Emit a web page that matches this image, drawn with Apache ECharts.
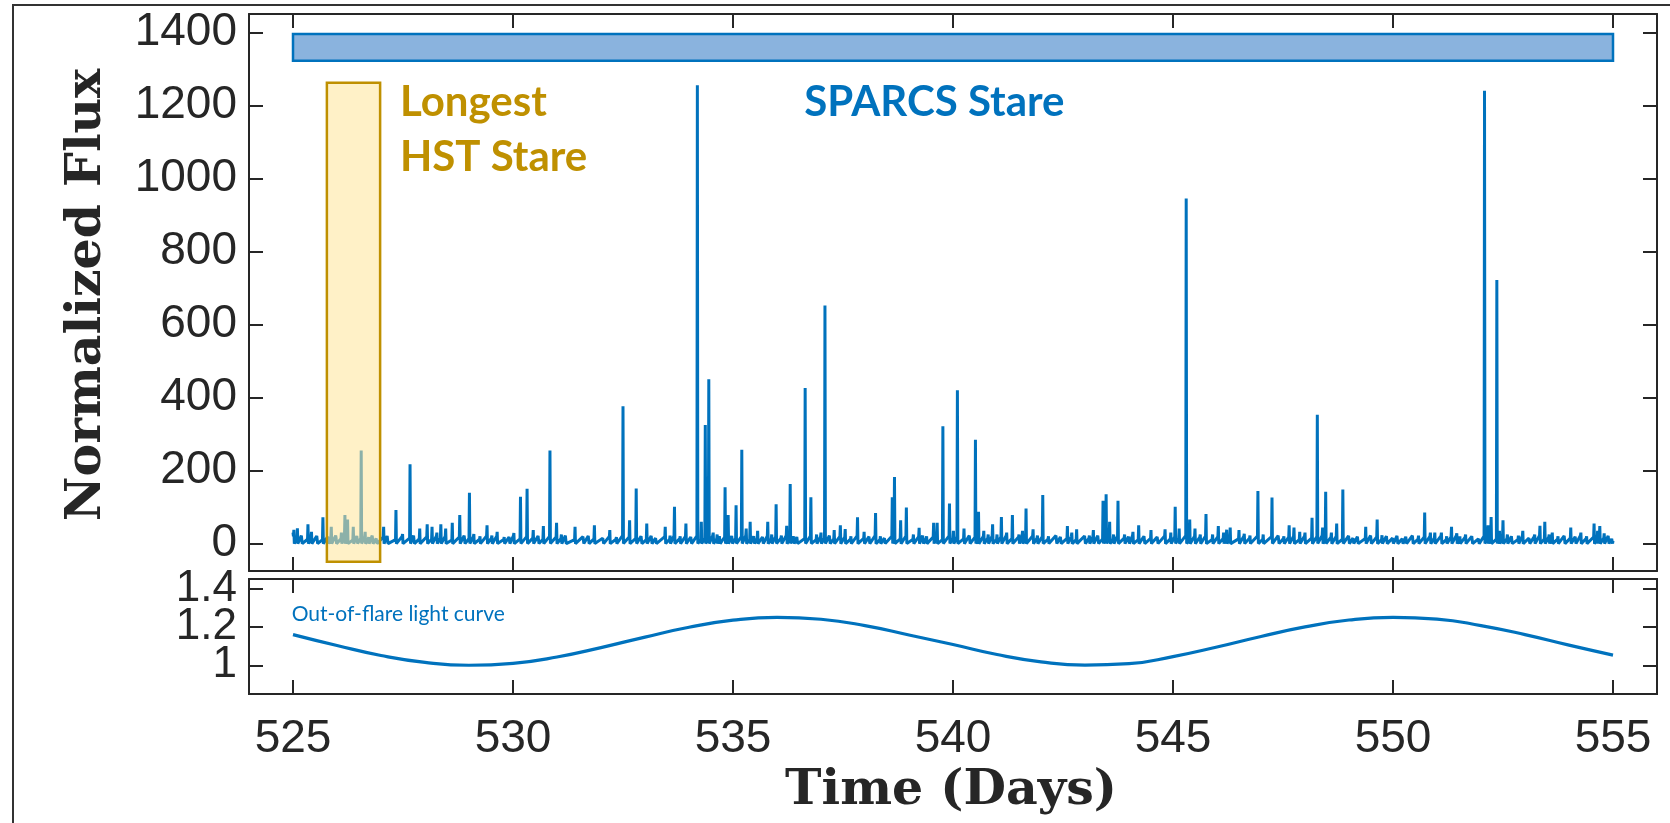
<!DOCTYPE html>
<html>
<head>
<meta charset="utf-8">
<script src="https://cdn.jsdelivr.net/npm/echarts@6/dist/echarts.min.js"></script>
<style>
  html, body { margin: 0; padding: 0; background: #fff; }
  #chart { width: 1670px; height: 823px; }
</style>
</head>
<body>
<div id="chart"></div>
<script>
// flare spikes (time in days, normalized flux)
const flareTime = [
  525.02, 525.10, 525.20, 525.34, 525.42, 525.55, 525.68, 525.80, 525.87, 525.98,
  526.10, 526.18, 526.24, 526.37, 526.46, 526.55, 526.64, 526.72, 526.81, 526.90,
  527.06, 527.15, 527.34, 527.49, 527.66, 527.75, 527.88, 528.05, 528.16, 528.27,
  528.36, 528.47, 528.62, 528.79, 528.90, 529.01, 529.11, 529.25, 529.41, 529.52,
  529.64, 529.80, 529.92, 530.02, 530.17, 530.32, 530.46, 530.58, 530.69, 530.84,
  530.99, 531.10, 531.20, 531.41, 531.60, 531.72, 531.85, 532.05, 532.20, 532.35,
  532.50, 532.65, 532.80, 532.92, 533.04, 533.15, 533.25, 533.46, 533.57, 533.67,
  533.80, 533.93, 534.05, 534.19, 534.28, 534.37, 534.45, 534.55, 534.64, 534.70,
  534.82, 534.89, 534.98, 535.07, 535.20, 535.30, 535.39, 535.48, 535.56, 535.68,
  535.79, 535.88, 535.98, 536.10, 536.22, 536.30, 536.38, 536.46, 536.64, 536.77,
  536.90, 537.00, 537.09, 537.20, 537.30, 537.44, 537.55, 537.68, 537.83, 537.98,
  538.10, 538.24, 538.35, 538.45, 538.62, 538.67, 538.81, 538.94, 539.10, 539.23,
  539.32, 539.40, 539.56, 539.64, 539.77, 539.92, 540.01, 540.10, 540.25, 540.38,
  540.51, 540.58, 540.70, 540.80, 540.90, 541.00, 541.10, 541.22, 541.35, 541.50,
  541.58, 541.66, 541.82, 541.92, 542.04, 542.17, 542.35, 542.45, 542.60, 542.70,
  542.81, 543.00, 543.10, 543.19, 543.30, 543.41, 543.48, 543.56, 543.65, 543.75,
  543.90, 544.00, 544.09, 544.22, 544.35, 544.50, 544.65, 544.82, 544.95, 545.05,
  545.14, 545.30, 545.38, 545.50, 545.62, 545.75, 545.90, 546.03, 546.15, 546.22,
  546.30, 546.50, 546.62, 546.75, 546.93, 547.05, 547.25, 547.40, 547.52, 547.64,
  547.75, 547.88, 548.00, 548.16, 548.28, 548.40, 548.47, 548.60, 548.72, 548.86,
  549.00, 549.10, 549.20, 549.38, 549.50, 549.64, 549.75, 549.86, 550.00, 550.10,
  550.22, 550.30, 550.45, 550.58, 550.72, 550.85, 550.95, 551.10, 551.22, 551.33,
  551.45, 551.52, 551.65, 551.80, 551.95, 552.08, 552.16, 552.23, 552.36, 552.42,
  552.50, 552.60, 552.70, 552.85, 552.95, 553.10, 553.22, 553.34, 553.45, 553.55,
  553.62, 553.75, 553.90, 554.04, 554.15, 554.27, 554.40, 554.57, 554.65, 554.70,
  554.80, 554.90, 554.98
];
const flarePeak = [
  38, 42, 20, 53, 32, 18, 72, 20, 46, 15,
  30, 78, 66, 46, 25, 255, 32, 18, 23, 18,
  46, 25, 92, 26, 217, 25, 41, 53, 46, 30,
  53, 41, 57, 78, 25, 139, 26, 20, 50, 22,
  32, 18, 15, 29, 128, 150, 37, 20, 48, 255,
  57, 25, 20, 46, 22, 18, 50, 20, 37, 18,
  376, 64, 151, 25, 55, 20, 18, 46, 22, 101,
  20, 55, 20, 1255, 60, 325, 450, 30, 25, 20,
  154, 78, 22, 105, 257, 41, 60, 25, 35, 20,
  60, 25, 108, 22, 49, 163, 20, 20, 426, 127,
  25, 30, 652, 25, 37, 50, 40, 20, 72, 32,
  18, 84, 20, 20, 127, 182, 64, 99, 25, 43,
  20, 20, 57, 57, 321, 110, 35, 420, 41, 25,
  284, 87, 35, 25, 53, 25, 73, 30, 78, 25,
  35, 96, 39, 22, 133, 20, 25, 20, 48, 30,
  39, 20, 22, 37, 20, 117, 135, 60, 25, 117,
  25, 20, 32, 50, 22, 37, 20, 39, 30, 101,
  41, 945, 66, 41, 25, 81, 25, 48, 30, 38,
  44, 37, 27, 22, 144, 25, 126, 25, 20, 50,
  44, 32, 30, 71, 353, 44, 142, 30, 55, 148,
  20, 20, 18, 46, 22, 66, 23, 20, 15, 18,
  15, 20, 18, 22, 85, 30, 30, 30, 20, 46,
  28, 20, 25, 20, 18, 1240, 50, 73, 722, 35,
  64, 25, 20, 22, 35, 20, 25, 49, 60, 25,
  30, 20, 25, 44, 22, 30, 20, 55, 35, 48,
  28, 20, 15
];
// quiet (between-flare) level just before each spike
const flareQuiet = [
  20, 14, 22, 12, 18, 21, 11, 19, 15, 22,
  13, 20, 18, 10, 21, 15, 19, 12, 22, 14,
  18, 21, 11, 20, 15, 22, 13, 19, 12, 21,
  15, 20, 10, 18, 22, 14, 19, 12, 21, 15,
  20, 11, 18, 22, 13, 19, 15, 21, 12, 20,
  18, 14, 22, 11, 19, 21, 13, 15, 20, 12,
  22, 18, 14, 20, 11, 21, 15, 19, 12, 22,
  14, 20, 18, 21, 11, 15, 19, 22, 13, 20,
  18, 12, 21, 15, 19, 22, 11, 20, 14, 18,
  21, 13, 19, 15, 22, 12, 20, 18, 14, 21,
  11, 19, 15, 22, 13, 20, 18, 12, 21, 14,
  19, 22, 11, 15, 20, 18, 13, 21, 12, 19,
  22, 14, 18, 20, 11, 21, 15, 19, 13, 22,
  18, 12, 20, 15, 21, 11, 19, 22, 14, 18,
  20, 13, 21, 15, 19, 12, 22, 18, 14, 20,
  11, 21, 15, 19, 22, 13, 18, 20, 12, 21,
  15, 19, 22, 11, 20, 14, 18, 21, 13, 19,
  15, 22, 12, 20, 18, 21, 11, 19, 14, 22,
  18, 13, 20, 15, 21, 12, 19, 22, 14, 18,
  20, 11, 21, 15, 19, 22, 13, 18, 20, 12,
  21, 15, 19, 14, 22, 18, 11, 20, 15, 21,
  13, 19, 22, 12, 18, 20, 15, 21, 11, 19,
  22, 14, 18, 20, 13, 21, 15, 19, 12, 22,
  18, 14, 20, 11, 21, 15, 19, 22, 13, 18,
  20, 12, 21, 15, 19, 22, 14, 18, 11, 20,
  15, 21, 13
];

// out-of-flare (quiescent) light curve
const lcTime = [
  525, 526, 527, 528, 529, 530, 531, 532, 533, 534, 535, 536, 537, 538, 539, 540,
  541, 542, 543, 544, 545, 546, 547, 548, 549, 550, 551, 552, 553, 554, 555
];
const lcFlux = [
  1.160, 1.103, 1.051, 1.015, 1.000, 1.010, 1.043, 1.092, 1.147, 1.198, 1.235, 1.250,
  1.240, 1.207, 1.158, 1.108, 1.056, 1.018, 1.001, 1.008, 1.045, 1.095, 1.150, 1.200,
  1.236, 1.250, 1.241, 1.207, 1.160, 1.105, 1.053
];

// observing windows: [tStart, fluxBottom, tEnd, fluxTop]
const sparcsWindow = [525, 1322, 555, 1395];
const hstWindow = [525.77, -50, 526.98, 1262];

const xTicks = [525, 530, 535, 540, 545, 550, 555];
const fluxTicks = [0, 200, 400, 600, 800, 1000, 1200, 1400];
// the light-curve ticks are split over two stacked axes so the
// crowded labels are not dropped by the overlap check
const lcTicksOuter = [1, 1.4];
const lcTicksMiddle = [1.2];

const fluxData = [[525, 30]];
for (let i = 0; i < flareTime.length; i++) {
  fluxData.push([flareTime[i] - 0.01, flareQuiet[i]]);
  fluxData.push([flareTime[i], flarePeak[i]]);
  fluxData.push([flareTime[i] + 0.01, 0]);
}
fluxData.push([555, 8]);

const lcData = lcTime.map((t, i) => [t, lcFlux[i]]);

const axisColor = "#262626";
const blue = "#0072BD";
const gold = "#BF9000";
const titleFont = "DejaVu Serif";

function xAxisCfg(grid, pos, labels) {
  return {
    type: "value",
    gridIndex: grid,
    position: pos,
    min: 524,
    max: 556,
    axisLine: { onZero: false, lineStyle: { color: axisColor, width: 2 } },
    axisTick: { inside: true, length: 14, interval: 0, customValues: xTicks, lineStyle: { color: axisColor, width: 2 } },
    axisLabel: {
      show: labels,
      customValues: xTicks,
      interval: 0,
      margin: 22,
      color: axisColor,
      fontFamily: "Liberation Sans",
      fontSize: 46,
      formatter: v => String(v)
    },
    splitLine: { show: false }
  };
}

function yAxisCfg(grid, pos, min, max, ticks, labels, size) {
  return {
    type: "value",
    gridIndex: grid,
    position: pos,
    offset: 0,
    min: min,
    max: max,
    axisLine: { show: true, onZero: false, lineStyle: { color: axisColor, width: 2 } },
    axisTick: { show: true, inside: true, length: 14, interval: 0, customValues: ticks, lineStyle: { color: axisColor, width: 2 } },
    axisLabel: {
      show: labels,
      customValues: ticks,
      interval: 0,
      showMinLabel: true,
      showMaxLabel: true,
      margin: 12,
      color: axisColor,
      fontFamily: "Liberation Sans",
      fontSize: size,
      formatter: v => String(v)
    },
    splitLine: { show: false }
  };
}

function boxRenderer(fill, stroke) {
  return function (params, api) {
    const p0 = api.coord([api.value(0), api.value(3)]);
    const p1 = api.coord([api.value(2), api.value(1)]);
    return {
      type: "rect",
      shape: { x: p0[0], y: p0[1], width: p1[0] - p0[0], height: p1[1] - p0[1] },
      style: { fill: fill, stroke: stroke, lineWidth: 2.5 }
    };
  };
}

const chart = echarts.init(document.getElementById("chart"));
chart.setOption({
  animation: false,
  backgroundColor: "#fff",
  grid: [
    { left: 249, top: 14, width: 1408, height: 557 },
    { left: 249, top: 579, width: 1408, height: 115 }
  ],
  xAxis: [
    xAxisCfg(0, "bottom", false),
    xAxisCfg(0, "top", false),
    xAxisCfg(1, "bottom", true),
    xAxisCfg(1, "top", false)
  ],
  yAxis: [
    yAxisCfg(0, "left", -75, 1450, fluxTicks, true, 46),
    yAxisCfg(0, "right", -75, 1450, fluxTicks, false, 46),
    yAxisCfg(1, "left", 0.85, 1.45, lcTicksOuter, true, 44),
    yAxisCfg(1, "right", 0.85, 1.45, lcTicksOuter, false, 44),
    yAxisCfg(1, "left", 0.85, 1.45, lcTicksMiddle, true, 44),
    yAxisCfg(1, "right", 0.85, 1.45, lcTicksMiddle, false, 44)
  ],
  series: [
    {
      type: "line",
      xAxisIndex: 0,
      yAxisIndex: 0,
      data: fluxData,
      showSymbol: false,
      sampling: "none",
      lineStyle: { color: blue, width: 3 },
      z: 2
    },
    {
      type: "custom",
      xAxisIndex: 0,
      yAxisIndex: 0,
      data: [sparcsWindow],
      renderItem: boxRenderer("#8AB3DE", blue),
      z: 3
    },
    {
      type: "custom",
      xAxisIndex: 0,
      yAxisIndex: 0,
      data: [hstWindow],
      renderItem: boxRenderer("rgba(255,229,153,0.55)", gold),
      z: 4
    },
    {
      type: "line",
      xAxisIndex: 2,
      yAxisIndex: 2,
      data: lcData,
      smooth: true,
      showSymbol: false,
      lineStyle: { color: blue, width: 3.2 }
    }
  ]
});

// annotations anchored in data coordinates
const pLongest = chart.convertToPixel({ seriesIndex: 0 }, [527.43, 1282]);
const pSparcs = chart.convertToPixel({ seriesIndex: 0 }, [536.62, 1282]);
const pCurve = chart.convertToPixel({ seriesIndex: 3 }, [524.97, 1.265]);

chart.setOption({
  graphic: [
    {
      type: "polyline",
      shape: { points: [[13, 823], [13, 5], [1670, 5]] },
      style: { stroke: "#333", lineWidth: 2, fill: null },
      silent: true
    },
    {
      type: "text",
      x: pLongest[0],
      y: pLongest[1],
      style: {
        text: "Longest\nHST Stare",
        fill: gold,
        fontFamily: "Lato",
        fontWeight: "bold",
        fontSize: 42,
        lineHeight: 55,
        align: "left",
        verticalAlign: "top"
      }
    },
    {
      type: "text",
      x: pSparcs[0],
      y: pSparcs[1],
      style: {
        text: "SPARCS Stare",
        fill: blue,
        fontFamily: "Lato",
        fontWeight: "bold",
        fontSize: 42,
        lineHeight: 55,
        align: "left",
        verticalAlign: "top"
      }
    },
    {
      type: "text",
      x: pCurve[0],
      y: pCurve[1],
      style: {
        text: "Out-of-flare light curve",
        fill: blue,
        fontFamily: "Lato",
        fontSize: 21,
        align: "left",
        verticalAlign: "middle"
      }
    },
    {
      type: "text",
      x: 87,
      y: 295,
      rotation: Math.PI / 2,
      style: {
        text: "Normalized Flux",
        fill: axisColor,
        fontFamily: titleFont,
        fontWeight: "bold",
        fontSize: 49,
        align: "center",
        verticalAlign: "middle"
      }
    },
    {
      type: "text",
      x: 951,
      y: 791,
      style: {
        text: "Time (Days)",
        fill: axisColor,
        fontFamily: titleFont,
        fontWeight: "bold",
        fontSize: 49,
        align: "center",
        verticalAlign: "middle"
      }
    }
  ]
});
</script>
</body>
</html>
